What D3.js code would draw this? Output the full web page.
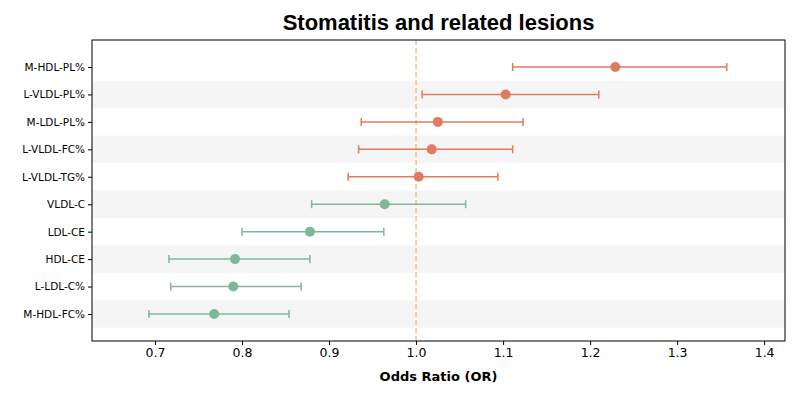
<!DOCTYPE html>
<html><head><meta charset="utf-8">
<script src="https://cdn.jsdelivr.net/npm/d3@7"></script>
<style>body{margin:0;background:#fff}</style>
</head><body>
<svg id="chart" width="800" height="400"></svg>
<script>
var labels = ["M-HDL-PL%","L-VLDL-PL%","M-LDL-PL%","L-VLDL-FC%","L-VLDL-TG%","VLDL-C","LDL-CE","HDL-CE","L-LDL-C%","M-HDL-FC%"];
var orValues = [1.229,1.103,1.025,1.018,1.003,0.964,0.878,0.792,0.790,0.768];
var lower = [1.111,1.007,0.937,0.934,0.922,0.880,0.800,0.716,0.718,0.693];
var upper = [1.357,1.210,1.123,1.111,1.094,1.057,0.963,0.878,0.868,0.854];
var xTicks = [0.7,0.8,0.9,1.0,1.1,1.2,1.3,1.4];

var margin = {top: 40, right: 15, bottom: 59, left: 92},
    width = 800 - margin.left - margin.right,
    height = 400 - margin.top - margin.bottom;
var svg = d3.select("#chart");
var g = svg.append("g").attr("transform", "translate(" + margin.left + "," + margin.top + ")");

var x = d3.scaleLinear().domain([0.6276, 1.424]).range([0, width]);
var y = d3.scaleLinear().domain([-0.985, 9.985]).range([0, height]);
var rowH = y(1) - y(0);

g.selectAll("rect.band").data(labels).enter().filter(function(d, i) { return i % 2 == 1; })
  .append("rect")
  .attr("x", 0).attr("width", width)
  .attr("y", function(d) { return y(labels.indexOf(d)) - rowH / 2; })
  .attr("height", rowH)
  .attr("fill", "#f5f5f5");

g.append("line")
  .attr("x1", x(1)).attr("x2", x(1)).attr("y1", 0).attr("y2", height)
  .attr("stroke", "#f0c27a").attr("stroke-width", 1.5).attr("stroke-dasharray", "5,3");

function col(i) { return orValues[i] >= 1 ? "#e07b5f" : "#80b79b"; }

var rows = g.selectAll("g.row").data(labels).enter().append("g")
  .attr("transform", function(d, i) { return "translate(0," + y(i) + ")"; });
rows.append("line")
  .attr("x1", function(d, i) { return x(lower[i]); })
  .attr("x2", function(d, i) { return x(upper[i]); })
  .attr("stroke", function(d, i) { return col(i); }).attr("stroke-width", 1.5);
rows.append("line")
  .attr("x1", function(d, i) { return x(lower[i]); })
  .attr("x2", function(d, i) { return x(lower[i]); })
  .attr("y1", -4).attr("y2", 4)
  .attr("stroke", function(d, i) { return col(i); }).attr("stroke-width", 1.5);
rows.append("line")
  .attr("x1", function(d, i) { return x(upper[i]); })
  .attr("x2", function(d, i) { return x(upper[i]); })
  .attr("y1", -4).attr("y2", 4)
  .attr("stroke", function(d, i) { return col(i); }).attr("stroke-width", 1.5);
rows.append("circle")
  .attr("cx", function(d, i) { return x(orValues[i]); })
  .attr("r", 5)
  .attr("fill", function(d, i) { return col(i); });

var font = "DejaVu Sans, sans-serif";
var xAxis = g.append("g").attr("transform", "translate(0," + height + ")")
  .call(d3.axisBottom(x).tickValues(xTicks).tickFormat(d3.format(".1f")).tickSize(4));
xAxis.selectAll("text").attr("font-size", 12.5).attr("font-family", font).attr("fill", "#000");
var yAxis = g.append("g")
  .call(d3.axisLeft(y).tickValues(d3.range(labels.length)).tickFormat(function(i) { return labels[i]; }).tickSize(4));
yAxis.selectAll("text").attr("font-size", 10.5).attr("font-family", font).attr("fill", "#000");
g.selectAll(".domain").remove();
g.append("rect").attr("width", width).attr("height", height)
  .attr("fill", "none").attr("stroke", "#000").attr("stroke-width", 1);

svg.append("text").attr("x", margin.left + width / 2).attr("y", 30)
  .attr("text-anchor", "middle").attr("font-family", "Liberation Sans, Arial, sans-serif")
  .attr("font-weight", "bold").attr("font-size", 22).text("Stomatitis and related lesions");
svg.append("text").attr("x", margin.left + width / 2).attr("y", 381)
  .attr("text-anchor", "middle").attr("font-family", font)
  .attr("font-weight", "bold").attr("font-size", 13).text("Odds Ratio (OR)");
</script>
</body></html>
